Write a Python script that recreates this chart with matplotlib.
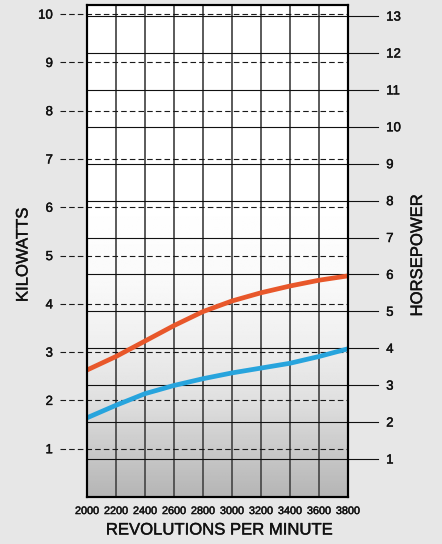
import numpy as np
import matplotlib
matplotlib.use("Agg")
import matplotlib.pyplot as plt
import matplotlib.patheffects as pe
from matplotlib.transforms import blended_transform_factory

# ---- data ----
rpm = [2000, 2200, 2400, 2600, 2800, 3000, 3200, 3400, 3600, 3800]
kw_red = [2.63, 2.91, 3.23, 3.55, 3.84, 4.06, 4.23, 4.37, 4.49, 4.58]
kw_blue = [1.64, 1.90, 2.14, 2.31, 2.45, 2.57, 2.67, 2.77, 2.91, 3.07]
kw_ticks = [1, 2, 3, 4, 5, 6, 7, 8, 9, 10]
hp_ticks = [1, 2, 3, 4, 5, 6, 7, 8, 9, 10, 11, 12, 13]
x_ticks = [2000, 2200, 2400, 2600, 2800, 3000, 3200, 3400, 3600, 3800]

FONT = ["Liberation Sans", "DejaVu Sans"]
plt.rcParams['font.family'] = FONT
heavy = [pe.withStroke(linewidth=0.3, foreground='#111111')]

W, H = 442, 544
fig = plt.figure(figsize=(W / 100, H / 100), dpi=100)
fig.patch.set_facecolor('#e7e7e7')

ax = fig.add_axes([87 / W, 47 / H, 261 / W, 492 / H])
ax.set_xlim(2000, 3800)
ax.set_ylim(0, 10.19)
ax2 = ax.twinx()
ax2.set_ylim(-0.03, 13.3)

# background gradient in plot area
t = np.linspace(0, 1, 300)  # 0 = top, 1 = bottom
shade = np.interp(t, [0, 0.4, 0.55, 0.68, 0.8, 1.0], [1.0, 1.0, 0.98, 0.94, 0.88, 0.71])
ax.imshow(shade[:, None], extent=[2000, 3800, 0, 10.19], aspect='auto',
          cmap='gray', vmin=0, vmax=1, zorder=0, interpolation='bilinear')
ax.set_xlim(2000, 3800)
ax.set_ylim(0, 10.19)

# vertical grid lines
ax.vlines(x_ticks, 0, 10.19, colors='#4d4d4d', linewidth=1.3, zorder=1)

# kW dashed lines extending left
trk = blended_transform_factory(ax.transAxes, ax.transData)
for k in kw_ticks:
    ax.plot([-0.103, 1.0], [k, k], transform=trk, clip_on=False, color='#1a1a1a',
            linewidth=0.8, linestyle=(0, (5, 2.8)), zorder=2)

# HP solid lines extending right
trh = blended_transform_factory(ax.transAxes, ax2.transData)
for h in hp_ticks:
    ax.plot([0.0, 1.115], [h, h], transform=trh, clip_on=False, color='#111111',
            linewidth=0.8, zorder=2)

# curves
ax.plot(rpm, kw_red, color='#e8572a', linewidth=3.4, zorder=5, solid_capstyle='round')
ax.plot(rpm, kw_blue, color='#27a4dd', linewidth=3.4, zorder=5, solid_capstyle='round')

# ticks
ax.set_xticks(x_ticks)
ax.set_xticklabels([str(v) for v in x_ticks], family=["Liberation Sans Narrow", "Liberation Sans"], fontsize=7.8)
ax.tick_params(axis='x', length=0, pad=6.5, colors='#111111')
ax.set_yticks(kw_ticks)
ax.set_yticklabels([str(v) for v in kw_ticks], fontsize=9.5)
ax.tick_params(axis='y', length=0, pad=24.5, colors='#111111')
ax2.set_yticks(hp_ticks)
ax2.set_yticklabels([str(v) for v in hp_ticks], fontsize=9.5)
ax2.tick_params(axis='y', length=0, pad=27.5, colors='#111111')
for lbl in ax.get_xticklabels() + ax.get_yticklabels() + ax2.get_yticklabels():
    lbl.set_path_effects(heavy)

for a in (ax, ax2):
    for s in a.spines.values():
        s.set_linewidth(1.5)
        s.set_color('black')
        s.set_zorder(6)

kw_t = dict(fontsize=12, color='#111111', path_effects=heavy)
fig.text(23 / W, 1 - 255 / H, 'KILOWATTS', rotation=90, ha='center', va='center', **kw_t)
fig.text(417.5 / W, 1 - 255.5 / H, 'HORSEPOWER', rotation=90, ha='center', va='center', **kw_t)
fig.text(219 / W, 1 - 530 / H, 'REVOLUTIONS PER MINUTE', ha='center', va='center', **kw_t)

fig.savefig('out.png', dpi=100, facecolor=fig.get_facecolor())
